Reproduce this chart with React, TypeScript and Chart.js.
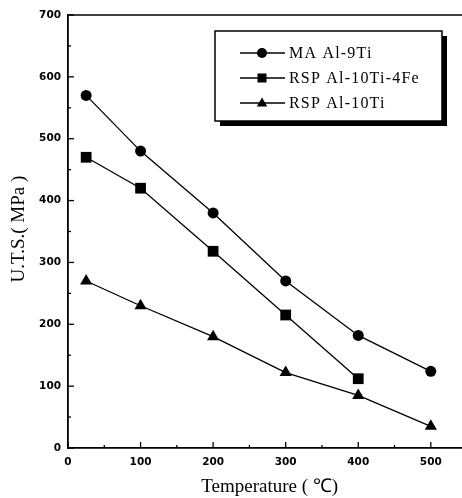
import React, { useEffect, useRef } from "react";
import { Chart, registerables } from "chart.js";

Chart.register(...registerables);

const temperatures = [25, 100, 200, 300, 400, 500];
const maAl9Ti = [570, 480, 380, 270, 182, 124];
const rspAl10Ti4Fe = [470, 420, 318, 215, 112];
const rspAl10Ti = [270, 230, 180, 122, 85, 35];

const seriesLabels = ["MA Al-9Ti", "RSP Al-10Ti-4Fe", "RSP Al-10Ti"];
const xTicks = [0, 100, 200, 300, 400, 500];
const yTicks = [0, 100, 200, 300, 400, 500, 600, 700];
const xMinorTicks = [50, 150, 250, 350, 450, 550];
const yMinorTicks = [50, 150, 250, 350, 450, 550, 650];

const toPoints = (vals: number[]) => vals.map((v, i) => ({ x: temperatures[i], y: v }));

const SERIF = "'Liberation Serif', 'Times New Roman', serif";
const TICKFONT = "'DejaVu Sans', sans-serif";

function drawMarker(ctx: CanvasRenderingContext2D, style: string, x: number, y: number, s: number) {
  ctx.beginPath();
  if (style === "circle") {
    ctx.arc(x, y, s * 0.5, 0, Math.PI * 2);
  } else if (style === "rect") {
    ctx.rect(x - s * 0.45, y - s * 0.45, s * 0.9, s * 0.9);
  } else {
    const w = s * 1.05;
    const h = s * 0.9;
    ctx.moveTo(x, y - h * 0.6);
    ctx.lineTo(x + w / 2, y + h * 0.4);
    ctx.lineTo(x - w / 2, y + h * 0.4);
    ctx.closePath();
  }
  ctx.fill();
}

const decorPlugin = {
  id: "decor",
  afterDraw(chart: any) {
    const ctx: CanvasRenderingContext2D = chart.ctx;
    const a = chart.chartArea;
    const xs = chart.scales.x;
    const ys = chart.scales.y;
    ctx.save();
    ctx.strokeStyle = "#000";
    ctx.fillStyle = "#000";
    ctx.lineWidth = 1.6;
    // top frame line
    ctx.beginPath();
    ctx.moveTo(a.left, a.top);
    ctx.lineTo(a.right, a.top);
    ctx.stroke();
    ctx.lineWidth = 1.3;
    // inward ticks
    const xt = (vals: number[], len: number) => {
      vals.forEach((v) => {
        if (v > xs.max) return;
        const px = xs.getPixelForValue(v);
        ctx.beginPath();
        ctx.moveTo(px, a.bottom);
        ctx.lineTo(px, a.bottom - len);
        ctx.stroke();
      });
    };
    const yt = (vals: number[], len: number) => {
      vals.forEach((v) => {
        const py = ys.getPixelForValue(v);
        ctx.beginPath();
        ctx.moveTo(a.left, py);
        ctx.lineTo(a.left + len, py);
        ctx.stroke();
      });
    };
    xt(xTicks, 6);
    xt(xMinorTicks, 3);
    yt(yTicks, 6);
    yt(yMinorTicks, 3);

    // legend box with shadow
    const bx = 215, by = 31, bw = 227, bh = 90;
    ctx.fillStyle = "#000";
    ctx.fillRect(bx + 5, by + 5, bw, bh);
    ctx.fillStyle = "#fff";
    ctx.fillRect(bx, by, bw, bh);
    ctx.strokeStyle = "#000";
    ctx.lineWidth = 1.5;
    ctx.strokeRect(bx, by, bw, bh);

    const rows = [53, 78, 103];
    ctx.font = `16px ${SERIF}`;
    (ctx as any).letterSpacing = "1.2px";
    ctx.textBaseline = "middle";
    ctx.textAlign = "left";
    chart.data.datasets.forEach((ds: any, i: number) => {
      const y = rows[i];
      ctx.strokeStyle = "#000";
      ctx.lineWidth = 1.3;
      ctx.beginPath();
      ctx.moveTo(240, y);
      ctx.lineTo(285, y);
      ctx.stroke();
      ctx.fillStyle = "#000";
      drawMarker(ctx, ds.pointStyle, 262, y, 10);
      ctx.fillText(ds.label, 289, y + 1);
    });
    ctx.restore();
  },
};

export default function App() {
  const ref = useRef<HTMLCanvasElement | null>(null);
  useEffect(() => {
    document.body.style.margin = "0";
    if (!ref.current) return;
    const common = {
      borderColor: "#000",
      backgroundColor: "#000",
      pointBackgroundColor: "#000",
      pointBorderColor: "#000",
      borderWidth: 1.3,
      pointBorderWidth: 0,
      fill: false,
      tension: 0,
    };
    const chart = new Chart(ref.current, {
      type: "line",
      data: {
        datasets: [
          { ...common, label: seriesLabels[0], data: toPoints(maAl9Ti), pointStyle: "circle", pointRadius: 5.5 },
          { ...common, label: seriesLabels[1], data: toPoints(rspAl10Ti4Fe), pointStyle: "rect", pointRadius: 7.6 },
          { ...common, label: seriesLabels[2], data: toPoints(rspAl10Ti), pointStyle: "triangle", pointRadius: 7 },
        ],
      },
      options: {
        animation: false,
        responsive: false,
        maintainAspectRatio: false,
        layout: { autoPadding: false, padding: { top: 15, left: 0, right: 0, bottom: 0 } },
        plugins: { legend: { display: false }, tooltip: { enabled: false } },
        scales: {
          x: {
            type: "linear",
            min: 0,
            max: 543,
            afterBuildTicks: (s: any) => {
              s.ticks = xTicks.map((v) => ({ value: v }));
            },
            afterFit: (s: any) => {
              s.height = 50;
            },
            grid: { display: true, drawOnChartArea: false, drawTicks: false },
            border: { display: true, color: "#000", width: 1.8 },
            ticks: {
              color: "#000",
              padding: 8,
              maxRotation: 0,
              font: { family: TICKFONT, size: 10.5, weight: "bold" },
            },
            title: {
              display: true,
              text: "  Temperature ( ℃)",
              color: "#000",
              font: { family: SERIF, size: 19 },
              padding: { top: 0, bottom: 0 },
            },
          },
          y: {
            type: "linear",
            min: 0,
            max: 700,
            afterBuildTicks: (s: any) => {
              s.ticks = yTicks.map((v) => ({ value: v }));
            },
            afterFit: (s: any) => {
              s.width = 68;
            },
            grid: { display: true, drawOnChartArea: false, drawTicks: false },
            border: { display: true, color: "#000", width: 1.8 },
            ticks: {
              color: "#000",
              padding: 7,
              font: { family: TICKFONT, size: 10.5, weight: "bold" },
            },
            title: {
              display: true,
              text: " U.T.S.( MPa )",
              color: "#000",
              font: { family: SERIF, size: 19 },
              padding: { top: 8, bottom: 0 },
            },
          },
        },
      },
      plugins: [decorPlugin],
    } as any);
    return () => chart.destroy();
  }, []);
  return (
    <div style={{ width: 462, height: 498 }}>
      <canvas ref={ref} width={462} height={498} style={{ display: "block" }} />
    </div>
  );
}
